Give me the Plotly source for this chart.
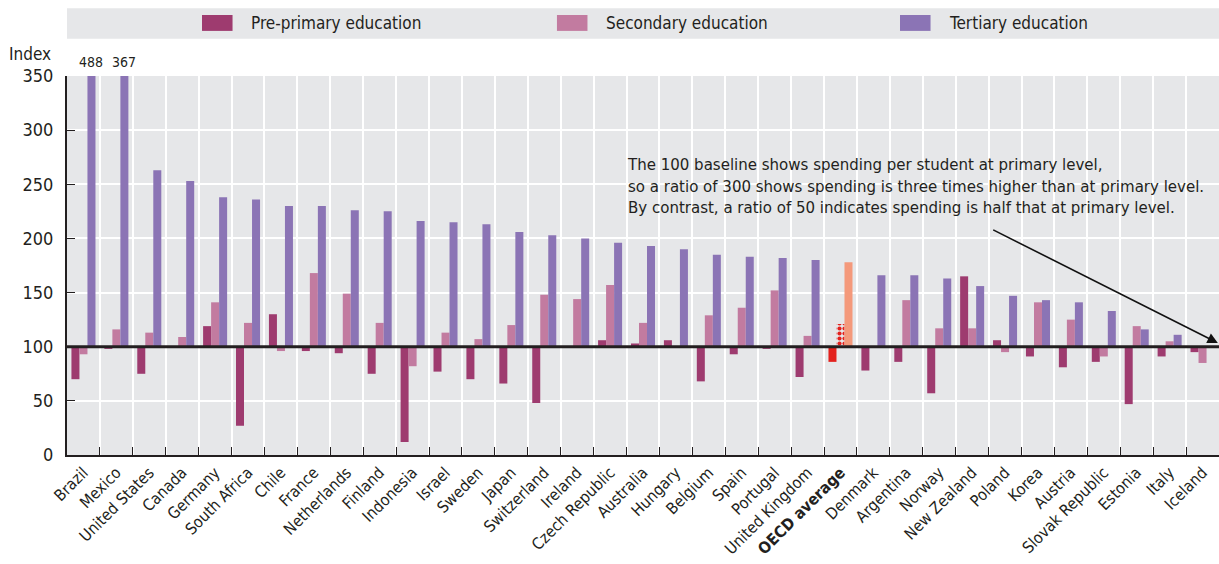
import plotly.graph_objects as go

countries = ["Brazil", "Mexico", "United States", "Canada", "Germany", "South Africa", "Chile",
             "France", "Netherlands", "Finland", "Indonesia", "Israel", "Sweden", "Japan",
             "Switzerland", "Ireland", "Czech Republic", "Australia", "Hungary", "Belgium",
             "Spain", "Portugal", "United Kingdom", "OECD average", "Denmark", "Argentina",
             "Norway", "New Zealand", "Poland", "Korea", "Austria", "Slovak Republic",
             "Estonia", "Italy", "Iceland"]
pre_primary = [70, 98, 75, None, 119, 27, 130, 96, 94, 75, 12, 77, 70, 66, 48, None, 106, 103,
               106, 68, 93, 98, 72, 86, 78, 86, 57, 165, 106, 91, 81, 86, 47, 91, 95]
secondary = [93, 116, 113, 109, 141, 122, 96, 168, 149, 122, 82, 113, 107, 120, 148, 144, 157,
             122, None, 129, 136, 152, 110, 121, None, 143, 117, 117, 95, 141, 125, 91, 119, 105, 85]
tertiary = [488, 367, 263, 253, 238, 236, 230, 230, 226, 225, 216, 215, 213, 206, 203, 200, 196,
            193, 190, 185, 183, 182, 180, 178, 166, 166, 163, 156, 147, 143, 141, 133, 116, 111, None]
baseline = 100
y_ticks = [0, 50, 100, 150, 200, 250, 300, 350]
y_max = 350

FONT = "DejaVu Sans Condensed, Liberation Sans Narrow, sans-serif"
TXT = "#231F20"
C_PRE, C_SEC, C_TER = "#9E3B6F", "#C27BA0", "#8B74B5"
C_OECD_PRE, C_OECD_SEC, C_OECD_TER = "#E3211D", "#E3211D", "#F4997B"
BG = "#E6E7E9"

ref = "OECD average"
def colors(base, special):
    return [special if c == ref else base for c in countries]

def rel(vals):
    return [None if v is None else v - baseline for v in vals]

ticktext = ["<b>%s</b>" % c if c == ref else c for c in countries]

fig = go.Figure()
fig.add_trace(go.Bar(name="Pre-primary education", x=countries, y=rel(pre_primary), base=baseline,
                     marker=dict(color=colors(C_PRE, C_OECD_PRE), line_width=0)))
fig.add_trace(go.Bar(name="Secondary education", x=countries, y=rel(secondary), base=baseline,
                     marker=dict(color=colors(C_SEC, C_OECD_SEC), line_width=0,
                                 pattern=dict(shape=["." if c == ref else "" for c in countries],
                                              fgcolor="#FFFFFF", bgcolor=C_OECD_SEC,
                                              fgopacity=1, fillmode="replace",
                                              size=5, solidity=0.55))))
fig.add_trace(go.Bar(name="Tertiary education", x=countries, y=rel(tertiary), base=baseline,
                     marker=dict(color=colors(C_TER, C_OECD_TER), line_width=0)))

annotations = []
# values beyond the axis
for c, v in zip(countries, tertiary):
    if v is not None and v > y_max:
        annotations.append(dict(x=c, y=y_max, xref="x", yref="y", text=str(v), showarrow=False,
                                yanchor="bottom", yshift=4, xshift=8,
                                font=dict(family=FONT, size=14, color=TXT)))
annotations.append(dict(x=-0.012, y=1.058, xref="paper", yref="paper", text="Index",
                        showarrow=False, xanchor="right", yanchor="middle",
                        font=dict(family=FONT, size=17, color=TXT)))
annotations.append(dict(x=0.484, y=0.8, xref="paper", yref="paper", xanchor="left", yanchor="top",
                        align="left", showarrow=False,
                        text="The 100 baseline shows spending per student at primary level,<br>"
                             "so a ratio of 300 shows spending is three times higher than at primary level.<br>"
                             "By contrast, a ratio of 50 indicates spending is half that at primary level.",
                        font=dict(family=FONT, size=16.7, color=TXT)))
annotations.append(dict(x=0.999, y=103.5, xref="x domain", yref="y",
                        ax=0.8027, ay=208.6, axref="x domain", ayref="y",
                        showarrow=True, arrowhead=2, arrowsize=1.3, arrowwidth=1.6,
                        arrowcolor="#111111", text=""))

# custom legend strip
shapes = [dict(type="rect", xref="paper", yref="paper", x0=0, x1=1, y0=1.098, y1=1.179,
               fillcolor=BG, line_width=0, layer="below")]
legend_items = [("Pre-primary education", C_PRE, 0.1172), ("Secondary education", C_SEC, 0.4253),
                ("Tertiary education", C_TER, 0.7231)]
for name, col, x0 in legend_items:
    shapes.append(dict(type="rect", xref="paper", yref="paper", x0=x0, x1=x0 + 0.0265,
                       y0=1.119, y1=1.161, fillcolor=col, line_width=0))
    annotations.append(dict(x=x0 + 0.041, y=1.140, xref="paper", yref="paper", text=name,
                            showarrow=False, xanchor="left", yanchor="middle",
                            font=dict(family=FONT, size=17, color=TXT)))
# baseline at 100
shapes.append(dict(type="line", xref="x domain", yref="y", x0=0, x1=1, y0=baseline, y1=baseline,
                   line=dict(color=TXT, width=3), layer="above"))

fig.update_layout(
    width=1219, height=564,
    margin=dict(l=67, r=0, t=76, b=109),
    paper_bgcolor="white", plot_bgcolor=BG,
    barmode="group", bargap=0.27, bargroupgap=0,
    showlegend=False,
    font=dict(family=FONT, color=TXT),
    annotations=annotations, shapes=shapes,
)
fig.update_xaxes(tickmode="array", tickvals=countries, ticktext=ticktext, tickangle=-45,
                 tickson="boundaries", ticks="inside", ticklen=8, tickcolor=TXT, tickwidth=1,
                 showgrid=True, gridcolor="white", gridwidth=2,
                 showline=True, linecolor=TXT, linewidth=2,
                 tickfont=dict(family=FONT, size=16, color=TXT))
fig.update_yaxes(range=[0, y_max], tickvals=y_ticks, ticks="inside", ticklen=8, tickcolor=TXT,
                 showgrid=True, gridcolor="white", gridwidth=2, zeroline=False,
                 showline=True, linecolor=TXT, linewidth=2, ticklabelstandoff=8,
                 tickfont=dict(family=FONT, size=18, color=TXT))

fig.write_html("out.html", config={"displayModeBar": False},
               post_script="document.body.style.margin='0';document.body.style.overflow='hidden';")
